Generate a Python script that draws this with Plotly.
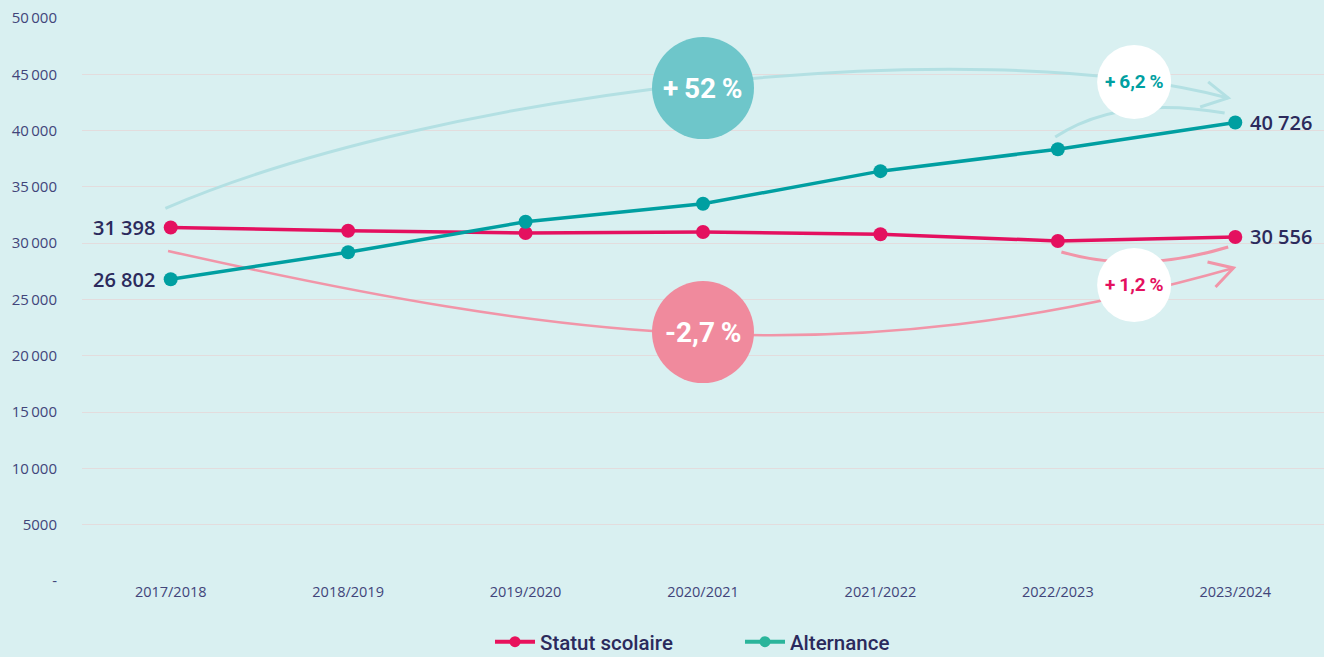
"""Effectifs en 1re année de CAP : statut scolaire vs alternance."""

import plotly.graph_objects as go

# ------------------------------------------------------------------
# Data
years = ["2017/2018", "2018/2019", "2019/2020", "2020/2021",
         "2021/2022", "2022/2023", "2023/2024"]
statut_scolaire = [31398, 31100, 30900, 31000, 30800, 30200, 30556]
alternance = [26802, 29200, 31900, 33500, 36400, 38350, 40726]

y_ticks = [0, 5000, 10000, 15000, 20000, 25000, 30000,
           35000, 40000, 45000, 50000]
y_ticktext = ["-"] + [f"{v // 1000}\u2009000" if v >= 10000 else f"{v}"
                      for v in y_ticks[1:]]

# evolution labels
evol_alt_total = "+\u200952\u2009%"
evol_sco_total = "-2,7\u2009%"
evol_alt_last = "+\u20096,2\u2009%"
evol_sco_last = "+\u20091,2\u2009%"

# ------------------------------------------------------------------
# Style
BG = "#d9f0f1"
NAVY = "#2b2a5c"
TICK = "#41457a"
GRID = "#e3dcdd"
PINK = "#e4105f"
TEAL = "#009fa1"
PINK_LEG = "#e8125c"
TEAL_LEG = "#2bb59b"
PINK_ARC = "#f195a8"
TEAL_ARC = "#b3e0e3"
PINK_BUBBLE = "#f08a9d"
TEAL_BUBBLE = "#6ec6ca"

W, H = 1324, 657
M_L, M_R, M_T, M_B = 82, 0, 18, 76
PX_X = (W - M_L - M_R) / 7          # pixels per category
PX_Y = (H - M_T - M_B) / 50000      # pixels per unit


def fmt(v):
    return f"{v // 1000} {v % 1000:03d}"


def cubic(p0, c1, c2, p3):
    return (f"M {p0[0]},{p0[1]} C {c1[0]},{c1[1]} "
            f"{c2[0]},{c2[1]} {p3[0]},{p3[1]}")


def quad(p0, c, p2):
    return f"M {p0[0]},{p0[1]} Q {c[0]},{c[1]} {p2[0]},{p2[1]}"


def chevron(tip, a, b):
    """Open arrow head, arms given as pixel offsets from the tip."""
    pa = (tip[0] + a[0] / PX_X, tip[1] - a[1] / PX_Y)
    pb = (tip[0] + b[0] / PX_X, tip[1] - b[1] / PX_Y)
    return f"M {pa[0]},{pa[1]} L {tip[0]},{tip[1]} L {pb[0]},{pb[1]}"


x = list(range(len(years)))

fig = go.Figure()

fig.add_trace(go.Scatter(
    x=x, y=statut_scolaire, mode="lines+markers", name="Statut scolaire",
    line=dict(color=PINK, width=3.5), marker=dict(color=PINK, size=14),
    showlegend=False, hoverinfo="skip",
))
fig.add_trace(go.Scatter(
    x=x, y=alternance, mode="lines+markers", name="Alternance",
    line=dict(color=TEAL, width=3.5), marker=dict(color=TEAL, size=14),
    showlegend=False, hoverinfo="skip",
))
# legend entries
for name, col in [("Statut scolaire", PINK_LEG), ("Alternance", TEAL_LEG)]:
    fig.add_trace(go.Scatter(
        x=[None], y=[None], mode="lines+markers", name=name,
        line=dict(color=col, width=4), marker=dict(color=col, size=11),
    ))

# ------------------------------------------------------------------
# Curved arrows
teal_tip = (5.96, 42900)
pink_tip = (5.99, 27800)
shapes = [
    dict(type="path", layer="between",
         path=cubic((-0.03, 33100), (1.5, 43500), (4.5, 49000), teal_tip),
         line=dict(color=TEAL_ARC, width=3)),
    dict(type="path", layer="between",
         path=chevron(teal_tip, (-20, -16), (-28, 9)),
         line=dict(color=TEAL_ARC, width=3)),
    dict(type="path", layer="between",
         path=quad((4.985, 39430), (5.35, 43200), (5.94, 41560)),
         line=dict(color=TEAL_ARC, width=3)),
    dict(type="path", layer="between",
         path=cubic((-0.015, 29310), (2.2, 21500), (3.8, 18000), pink_tip),
         line=dict(color=PINK_ARC, width=2.5)),
    dict(type="path", layer="between",
         path=chevron(pink_tip, (-26, -6), (-18, 19)),
         line=dict(color=PINK_ARC, width=3)),
    dict(type="path", layer="between",
         path=quad((5.02, 29220), (5.45, 27220), (5.96, 29660)),
         line=dict(color=PINK_ARC, width=3)),
]

# bubbles
bubbles = [
    (3.0, 43780, 51, TEAL_BUBBLE, evol_alt_total, "white", 28),
    (3.0, 22110, 51, PINK_BUBBLE, evol_sco_total, "white", 28),
    (5.43, 44320, 37, "white", evol_alt_last, TEAL, 19),
    (5.43, 26290, 37, "white", evol_sco_last, PINK, 19),
]
annotations = []
for bx, by, r, fill, text, tcol, size in bubbles:
    shapes.append(dict(
        type="circle", layer="between", xref="x", yref="y",
        xsizemode="pixel", ysizemode="pixel", xanchor=bx, yanchor=by,
        x0=-r, x1=r, y0=-r, y1=r, fillcolor=fill, line=dict(width=0),
    ))
    annotations.append(dict(
        x=bx, y=by, text=f"<b>{text}</b>", showarrow=False,
        font=dict(family="Roboto", size=size, color=tcol),
    ))

# end labels
for series in (statut_scolaire, alternance):
    annotations.append(dict(
        x=0, y=series[0], text=fmt(series[0]), showarrow=False,
        xanchor="right", xshift=-14,
        font=dict(family="Open Sans", size=20, color=NAVY, weight=600),
    ))
    annotations.append(dict(
        x=6, y=series[-1], text=fmt(series[-1]), showarrow=False,
        xanchor="left", xshift=13,
        font=dict(family="Open Sans", size=20, color=NAVY, weight=600),
    ))

fig.update_layout(
    width=W, height=H,
    margin=dict(l=M_L, r=M_R, t=M_T, b=M_B, autoexpand=False),
    paper_bgcolor=BG, plot_bgcolor=BG,
    shapes=shapes, annotations=annotations,
    font=dict(family="Open Sans", color=TICK),
    legend=dict(
        orientation="h", x=0.3285, y=-0.108, xanchor="left",
        yanchor="middle", entrywidth=195, itemwidth=40,
        font=dict(family="Roboto", size=20.5, color=NAVY, weight=500),
        bgcolor="rgba(0,0,0,0)",
    ),
    xaxis=dict(
        range=[-0.5, 6.5], tickvals=x, ticktext=years,
        showgrid=False, zeroline=False, showline=False,
        tickfont=dict(size=14.5, color=TICK),
    ),
    yaxis=dict(
        range=[0, 50000], tickvals=y_ticks, ticktext=y_ticktext,
        showgrid=True, gridcolor=GRID, gridwidth=1.2, zeroline=False,
        showline=False, ticklabelstandoff=24,
        tickfont=dict(size=15, color=TICK),
    ),
)

fig.write_html(
    "out.html",
    config={"displayModeBar": False},
    post_script="document.body.style.margin='0';"
                "document.body.style.background='" + BG + "';",
)
